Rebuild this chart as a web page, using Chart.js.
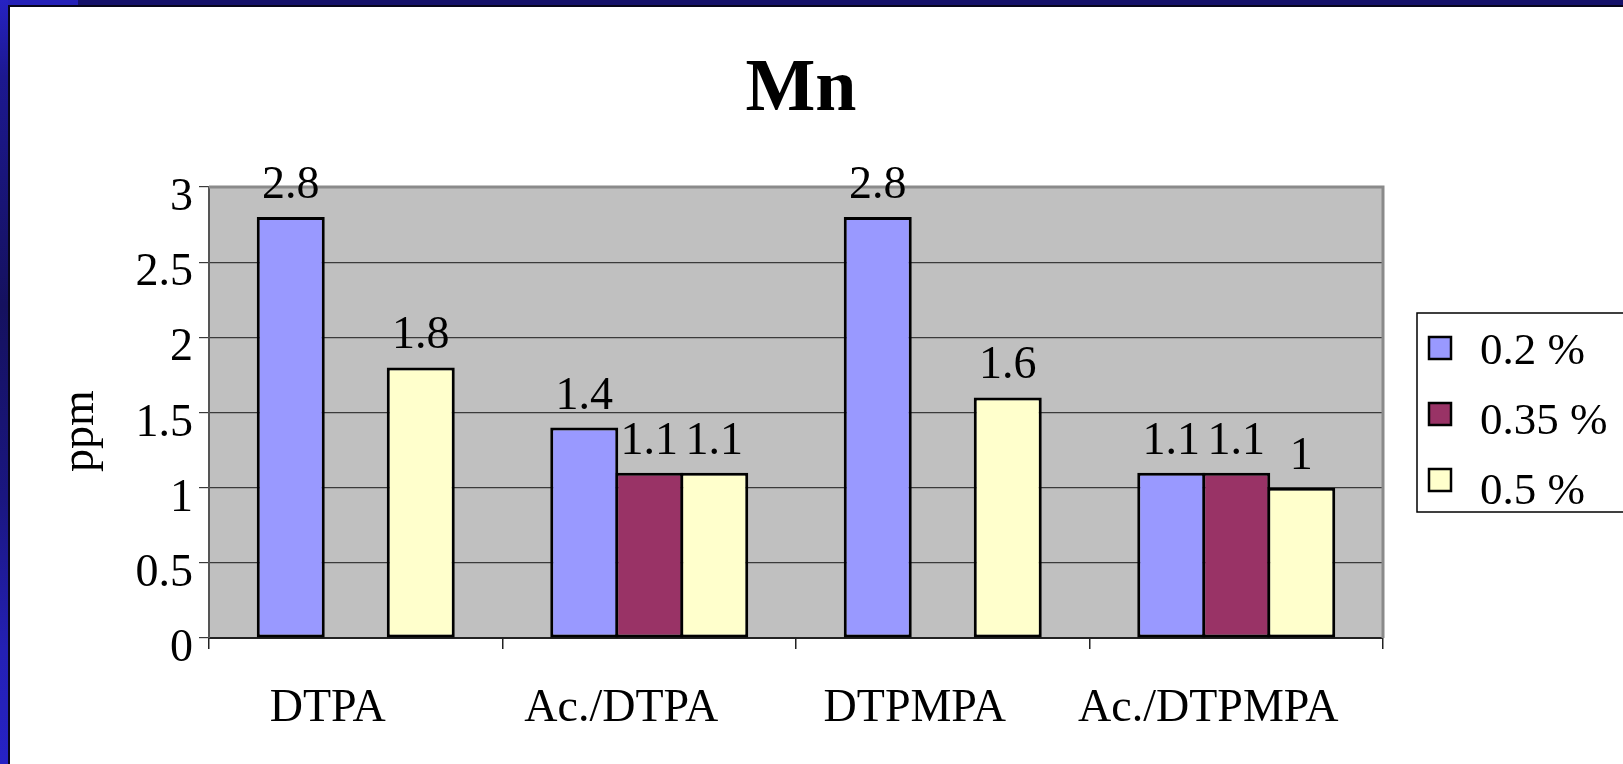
<!DOCTYPE html>
<html>
<head>
<meta charset="utf-8">
<title>Mn</title>
<script src="https://cdn.jsdelivr.net/npm/chart.js@4.4.1/dist/chart.umd.min.js"></script>
<style>
  html, body { margin: 0; padding: 0; background: #fff; overflow: hidden; }
  #wrap { position: relative; width: 1623px; height: 764px; }
  #c { position: absolute; left: 0; top: 0; }
  .frame { position: absolute; pointer-events: none; }
</style>
</head>
<body>
<div id="wrap">
  <canvas id="c" width="1623" height="764"></canvas>
  <!-- slide frame -->
  <div class="frame" style="left:0;top:0;width:1623px;height:5px;background:#15126a"></div>
  <div class="frame" style="left:0;top:0;width:78px;height:5px;background:#2521b8"></div>
  <div class="frame" style="left:0;top:0;width:8px;height:764px;background:linear-gradient(to bottom,#2622c2 0%,#1c1890 10%,#15115f 40%,#1a1680 65%,#2420b4 85%,#2622c4 100%)"></div>
  <div class="frame" style="left:8px;top:5px;width:1615px;height:2px;background:#07061c"></div>
  <div class="frame" style="left:8px;top:5px;width:2px;height:759px;background:#07061c"></div>
</div>
<script>
// Mn content (ppm) by extractant and concentration
const categories = ['DTPA', 'Ac./DTPA', 'DTPMPA', 'Ac./DTPMPA'];
const seriesNames = ['0.2 %', '0.35 %', '0.5 %'];
const values02 = [2.8, 1.4, 2.8, 1.1];
const values035 = [null, 1.1, null, 1.1];
const values05 = [1.8, 1.1, 1.6, 1.0];
const seriesColors = ['#9999FF', '#993366', '#FFFFCC'];
const yTickValues = [0, 0.5, 1, 1.5, 2, 2.5, 3];
const yTickLabels = ['0', '0.5', '1', '1.5', '2', '2.5', '3'];

const SERIF = '"Liberation Serif", "Times New Roman", serif';

// plot background, plot frame, title, axis title, value labels, legend
const decor = {
  id: 'decor',
  beforeDraw(chart) {
    const { ctx, chartArea: a } = chart;
    ctx.save();
    ctx.fillStyle = '#ffffff';
    ctx.fillRect(0, 0, chart.width, chart.height);
    ctx.fillStyle = '#c0c0c0';
    ctx.fillRect(a.left, a.top, a.right - a.left, a.bottom - a.top);
    ctx.restore();
  },
  beforeDatasetsDraw(chart) {
    const { ctx, chartArea: a } = chart;
    ctx.save();
    ctx.strokeStyle = '#8a8a8a';
    ctx.lineWidth = 3;
    ctx.beginPath();
    ctx.moveTo(a.left, a.top);
    ctx.lineTo(a.right, a.top);
    ctx.lineTo(a.right, a.bottom);
    ctx.stroke();
    ctx.restore();
  },
  afterDatasetsDraw(chart) {
    const { ctx } = chart;
    ctx.save();
    ctx.fillStyle = '#000';
    ctx.font = '46px ' + SERIF;
    ctx.textAlign = 'center';
    ctx.textBaseline = 'alphabetic';
    chart.data.datasets.forEach((ds, i) => {
      const meta = chart.getDatasetMeta(i);
      meta.data.forEach((bar, j) => {
        const v = ds.data[j];
        if (v === null || v === undefined) return;
        ctx.fillText(String(v), bar.x, bar.y - 19);
      });
    });
    ctx.restore();
  },
  afterDraw(chart) {
    const { ctx } = chart;
    ctx.save();
    ctx.fillStyle = '#000';
    // title
    ctx.font = 'bold 74px ' + SERIF;
    ctx.textAlign = 'center';
    ctx.textBaseline = 'alphabetic';
    ctx.fillText('Mn', 801, 110);
    // y axis title
    ctx.save();
    ctx.translate(93, 431);
    ctx.rotate(-Math.PI / 2);
    ctx.font = '46px ' + SERIF;
    ctx.textAlign = 'center';
    ctx.fillText('ppm', 0, 0);
    ctx.restore();
    // legend
    const lx = 1417, ly = 313, lh = 199;
    ctx.fillStyle = '#ffffff';
    ctx.fillRect(lx, ly, 1623 - lx + 5, lh);
    ctx.strokeStyle = '#000';
    ctx.lineWidth = 1.5;
    ctx.strokeRect(lx, ly, 1623 - lx + 5, lh);
    ctx.font = '45px ' + SERIF;
    ctx.textAlign = 'left';
    chart.data.datasets.forEach((ds, i) => {
      const sy = 337 + i * 66;
      ctx.fillStyle = ds.backgroundColor;
      ctx.fillRect(1429, sy, 22, 22);
      ctx.strokeStyle = '#000';
      ctx.lineWidth = 2.5;
      ctx.strokeRect(1429, sy, 22, 22);
      ctx.fillStyle = '#000';
      ctx.fillText(ds.label, 1480, 364 + i * 70);
    });
    ctx.restore();
  }
};

const seriesValues = [values02, values035, values05];

new Chart(document.getElementById('c'), {
  type: 'bar',
  data: {
    labels: categories,
    datasets: seriesNames.map((name, i) => ({
      label: name,
      data: seriesValues[i],
      backgroundColor: seriesColors[i],
      borderColor: '#000',
      borderWidth: 3,
      borderSkipped: false,
      categoryPercentage: 0.6644,
      barPercentage: 1.046
    }))
  },
  options: {
    responsive: false,
    animation: false,
    devicePixelRatio: 1,
    layout: { padding: { top: 187, right: 240, left: 0, bottom: 0 } },
    plugins: {
      legend: { display: false },
      title: { display: false },
      tooltip: { enabled: false }
    },
    scales: {
      x: {
        afterFit(scale) { scale.height = 126; },
        grid: {
          display: true,
          offset: true,
          drawOnChartArea: false,
          drawTicks: true,
          tickLength: 11,
          color: '#222',
          lineWidth: 1.5
        },
        border: { display: true, color: '#222', width: 2 },
        ticks: {
          font: { family: SERIF, size: 46 },
          color: '#000',
          padding: 32,
          labelOffset: -28,
          maxRotation: 0,
          autoSkip: false
        }
      },
      y: {
        min: 0,
        max: 3,
        afterFit(scale) { scale.width = 209; },
        afterBuildTicks(scale) { scale.ticks = yTickValues.map(v => ({ value: v })); },
        grid: {
          color: '#3a3a3a',
          lineWidth: 1.2,
          tickLength: 10,
          drawTicks: true
        },
        border: { display: true, color: '#555', width: 2 },
        ticks: {
          font: { family: SERIF, size: 46 },
          color: '#000',
          padding: 6,
          labelOffset: 11,
          callback(value) {
            const k = yTickValues.indexOf(value);
            return k >= 0 ? yTickLabels[k] : String(value);
          }
        }
      }
    }
  },
  plugins: [decor]
});
</script>
</body>
</html>
